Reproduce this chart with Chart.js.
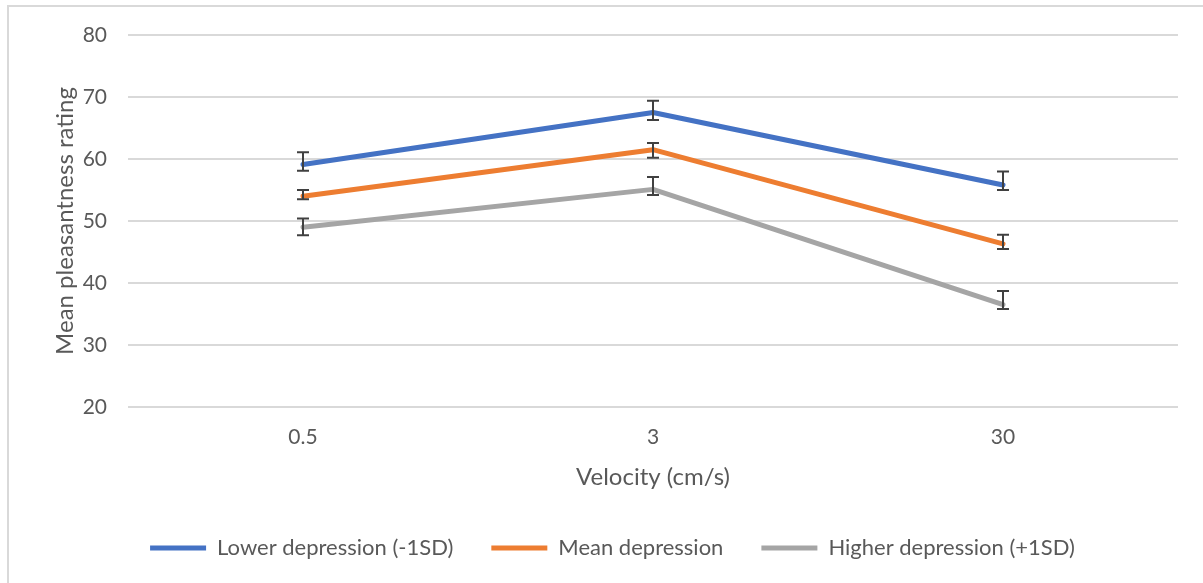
<!DOCTYPE html>
<html>
<head>
<meta charset="utf-8">
<script src="https://cdn.jsdelivr.net/npm/chart.js@4"></script>
<style>
  html, body { margin: 0; padding: 0; background: #fff; }
  #wrap { position: relative; width: 1203px; height: 583px; }
</style>
</head>
<body>
<div id="wrap"><canvas id="chart" width="1203" height="583"></canvas></div>
<script>
const velocities = ["0.5", "3", "30"];

const lowerDep = [59.1, 67.5, 55.8];
const lowerDepHi = [61.1, 69.4, 58.0];
const lowerDepLo = [58.1, 66.3, 55.0];

const meanDep = [54.0, 61.5, 46.3];
const meanDepHi = [55.0, 62.6, 47.8];
const meanDepLo = [53.5, 60.2, 45.5];

const higherDep = [49.0, 55.1, 36.5];
const higherDepHi = [50.4, 57.1, 38.7];
const higherDepLo = [47.7, 54.2, 35.8];

const FONT = "Lato, 'Open Sans', sans-serif";
const TXT = "#595959";
const GRID = "#d9d9d9";

const mkSet = (label, data, hi, lo, color) => ({
  label, data, hi, lo,
  borderColor: color, backgroundColor: color,
  borderWidth: 5, borderCapStyle: "round", borderJoinStyle: "round",
  pointRadius: 0, tension: 0
});

// error bars + outer frame
const extras = {
  id: "extras",
  beforeDraw(chart) {
    const ctx = chart.ctx;
    ctx.save();
    ctx.strokeStyle = GRID;
    ctx.lineWidth = 2;
    ctx.beginPath();
    ctx.moveTo(8, 583);
    ctx.lineTo(8, 6);
    ctx.lineTo(1203, 6);
    ctx.stroke();
    ctx.restore();
  },
  afterDatasetsDraw(chart) {
    const ctx = chart.ctx;
    const y = chart.scales.y;
    ctx.save();
    ctx.strokeStyle = "#404040";
    ctx.lineWidth = 2;
    chart.data.datasets.forEach((ds, di) => {
      chart.getDatasetMeta(di).data.forEach((pt, i) => {
        const yh = y.getPixelForValue(ds.hi[i]);
        const yl = y.getPixelForValue(ds.lo[i]);
        ctx.beginPath();
        ctx.moveTo(pt.x, yh); ctx.lineTo(pt.x, yl);
        ctx.moveTo(pt.x - 6, yh); ctx.lineTo(pt.x + 6, yh);
        ctx.moveTo(pt.x - 6, yl); ctx.lineTo(pt.x + 6, yl);
        ctx.stroke();
      });
    });
    ctx.restore();
  }
};

new Chart(document.getElementById("chart"), {
  type: "line",
  data: {
    labels: velocities,
    datasets: [
      mkSet("Lower depression (-1SD)", lowerDep, lowerDepHi, lowerDepLo, "#4472c4"),
      mkSet("Mean depression", meanDep, meanDepHi, meanDepLo, "#ed7d31"),
      mkSet("Higher depression (+1SD)", higherDep, higherDepHi, higherDepLo, "#a5a5a5")
    ]
  },
  options: {
    responsive: false,
    animation: false,
    layout: { padding: { left: 47, top: 35, right: 25, bottom: 14 } },
    plugins: {
      tooltip: { enabled: false },
      legend: {
        position: "bottom",
        labels: {
          usePointStyle: true,
          pointStyle: "line",
          pointStyleWidth: 56,
          padding: 38,
          color: TXT,
          font: { family: FONT, size: 22 }
        }
      }
    },
    scales: {
      x: {
        offset: true,
        grid: { display: false },
        border: { display: false },
        ticks: { color: TXT, padding: 10, font: { family: FONT, size: 21 } },
        title: { display: true, text: "Velocity (cm/s)", color: TXT, padding: { top: 4, bottom: 7 }, font: { family: FONT, size: 24 } },
        afterFit(s) { s.height = 92; }
      },
      y: {
        min: 20, max: 80,
        grid: { color: GRID, lineWidth: 2, drawTicks: false },
        border: { display: false },
        ticks: { stepSize: 10, color: TXT, padding: 21, font: { family: FONT, size: 21 } },
        title: { display: true, text: "Mean pleasantness rating", color: TXT, font: { family: FONT, size: 24 } },
        afterFit(s) { s.width = 81; }
      }
    }
  },
  plugins: [extras]
});
</script>
</body>
</html>
